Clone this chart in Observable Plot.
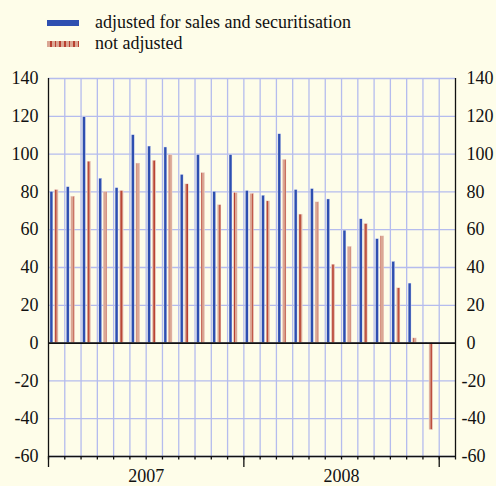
<!DOCTYPE html>
<html>
<head>
<meta charset="utf-8">
<script src="https://cdn.jsdelivr.net/npm/d3@7"></script>
<script src="https://cdn.jsdelivr.net/npm/@observablehq/plot@0.6"></script>
<style>
  html, body { margin: 0; padding: 0; background: #FEFDE9; }
  body { width: 496px; height: 486px; overflow: hidden; font-family: "Liberation Serif", "Times New Roman", Times, serif; }
  #legend { position: relative; height: 60px; }
  .row { position: absolute; left: 0; font-size: 18px; color: #111; line-height: 20px; }
  .sw { position: absolute; left: 47px; width: 32px; height: 6px; }
  .lbl { position: absolute; left: 95px; white-space: nowrap; }
</style>
</head>
<body>
<div id="legend">
  <div class="row" style="top:12px;"><div class="sw" style="top:8px;background:#2E4FB0;"></div><div class="lbl">adjusted for sales and securitisation</div></div>
  <div class="row" style="top:33px;"><div class="sw" style="top:8px;background:repeating-linear-gradient(90deg,#DBA794 0px,#DBA794 3px,#B84030 3px,#B84030 4.7px);"></div><div class="lbl">not adjusted</div></div>
</div>
<div id="chart"></div>
<script>
const months = ["2007-01","2007-02","2007-03","2007-04","2007-05","2007-06","2007-07","2007-08","2007-09","2007-10","2007-11","2007-12",
                "2008-01","2008-02","2008-03","2008-04","2008-05","2008-06","2008-07","2008-08","2008-09","2008-10","2008-11","2008-12"];
const adjusted    = [80, 82.5, 119.5, 87, 82, 110, 104, 103.5, 89, 99.5, 80, 99.5,
                     80.5, 78, 110.5, 81, 81.5, 76, 59.5, 65.5, 55, 43, 31.5, -0.5];
const notAdjusted = [81, 77.5, 96, 80, 80.5, 95, 96.5, 99.5, 84, 90, 73, 79.5,
                     79, 75, 97, 68, 74.5, 41.5, 51, 63, 56.5, 29, 2.5, -46];
const years = ["2007", "2008"];
const yTicks = [-60, -40, -20, 0, 20, 40, 60, 80, 100, 120, 140];

const data = months.map((m, i) => ({month: m, i, adjusted: adjusted[i], notAdjusted: notAdjusted[i]}));
const nSlots = months.length + 1;
const fmt = d => d < 0 ? "-" + Math.abs(d) : String(d);
const FONT = '"Liberation Serif", "Times New Roman", Times, serif';

const plot = Plot.plot({
  width: 496,
  height: 426,
  marginTop: 18,
  marginBottom: 30,
  marginLeft: 48,
  marginRight: 41,
  style: {background: "transparent", fontFamily: FONT, fontSize: "18px", color: "#111"},
  x: {domain: [0, nSlots], axis: null},
  y: {domain: [-60, 140], axis: null},
  marks: [
    Plot.ruleY(yTicks, {stroke: "#B5BCEE", strokeWidth: 1.3}),
    Plot.ruleX(d3.range(1, nSlots), {stroke: "#B5BCEE", strokeWidth: 1.3}),
    Plot.rect(data, {x1: d => d.i + 0.12, x2: d => d.i + 0.30, y1: () => 0, y2: "adjusted", fill: "#2E4FB0", stroke: "#E8ECF8", strokeWidth: 0.4}),
    Plot.rect(data, {x1: d => d.i + 0.40, x2: d => d.i + 0.62, y1: () => 0, y2: "notAdjusted", fill: "url(#stripes)", stroke: "#F4E4DC", strokeWidth: 0.4}),
    Plot.ruleY([0], {stroke: "#111", strokeWidth: 1.6}),
    Plot.ruleY([-60], {stroke: "#111", strokeWidth: 1.3}),
    Plot.ruleX([0, nSlots], {stroke: "#111", strokeWidth: 1.3}),
    Plot.axisX({ticks: d3.range(0, nSlots + 1), tickSize: 3.5, tickFormat: () => "", stroke: "#111", strokeWidth: 1.3}),
    Plot.axisX({ticks: [0, 12, 24], tickSize: 11, tickFormat: () => "", stroke: "#111", strokeWidth: 1.3}),
    Plot.axisX({ticks: [6, 18], tickSize: 0, tickPadding: 13, tickFormat: d => years[(d - 6) / 12], fontSize: 18, fontFamily: FONT}),
    Plot.axisY({anchor: "left", ticks: yTicks, tickSize: 0, tickPadding: 10, tickFormat: fmt, fontSize: 18, fontFamily: FONT}),
    Plot.axisY({anchor: "right", ticks: yTicks.filter(d => d >= 0), tickSize: 0, tickPadding: 11, tickFormat: fmt, fontSize: 18, fontFamily: FONT}),
    Plot.axisY({anchor: "right", ticks: yTicks.filter(d => d < 0), tickSize: 0, tickPadding: 6, tickFormat: fmt, fontSize: 18, fontFamily: FONT})
  ]
});

const ns = "http://www.w3.org/2000/svg";
const defs = document.createElementNS(ns, "defs");
defs.innerHTML = '<pattern id="stripes" patternUnits="userSpaceOnUse" x="0" y="0" width="4.7" height="10">' +
  '<rect x="0" y="0" width="4.7" height="10" fill="#DBA794"></rect>' +
  '<rect x="3.1" y="0" width="1.6" height="10" fill="#B84030"></rect></pattern>';
plot.insertBefore(defs, plot.firstChild);
document.getElementById("chart").appendChild(plot);
</script>
</body>
</html>
